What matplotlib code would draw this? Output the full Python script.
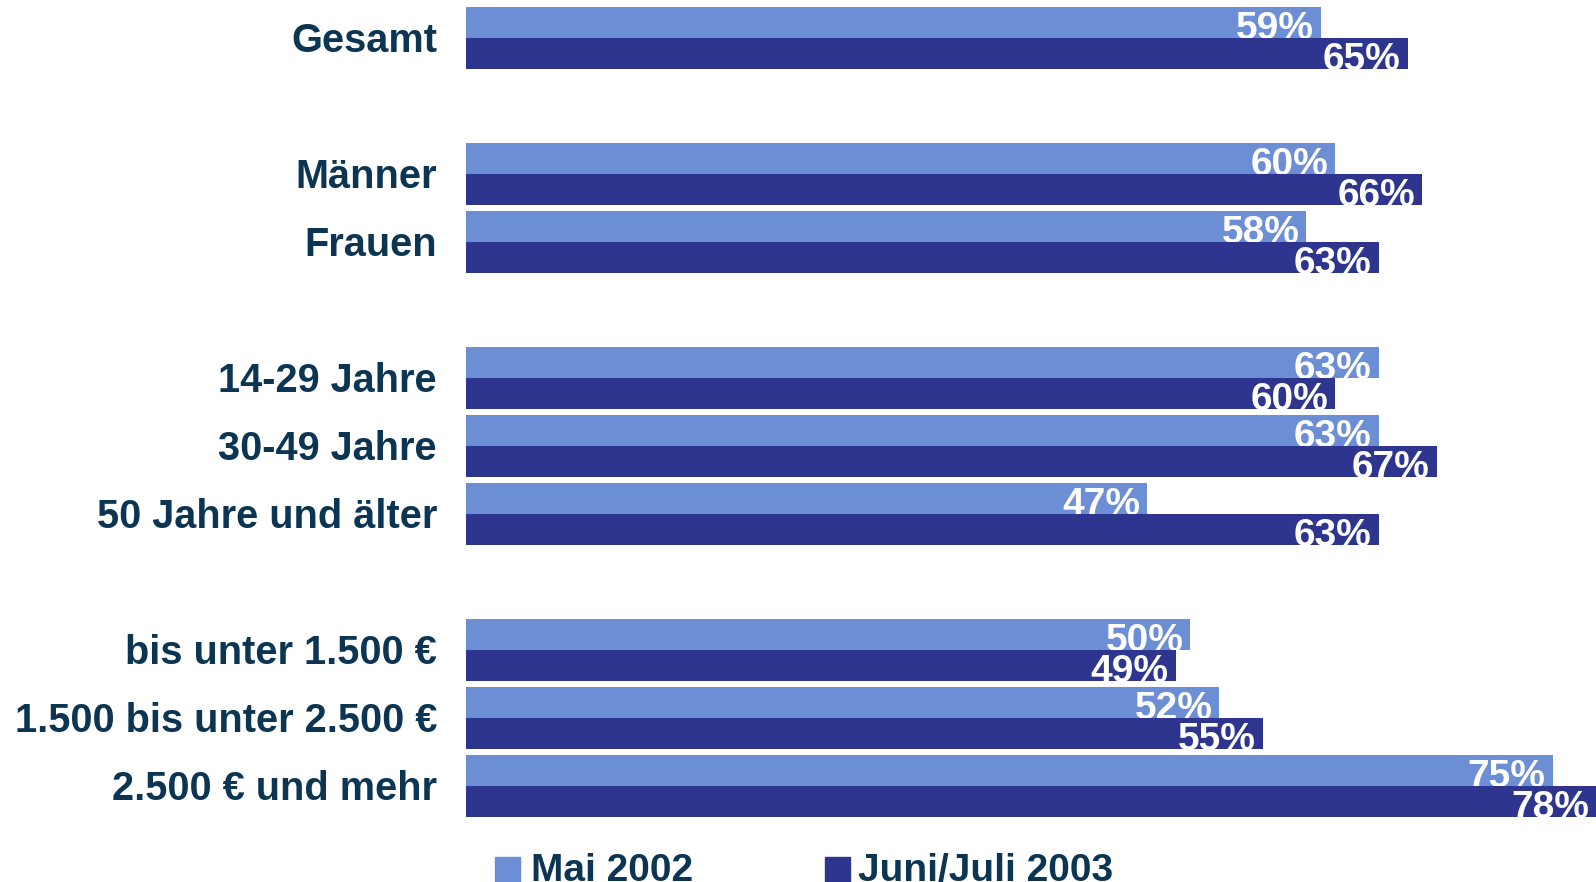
import matplotlib
matplotlib.use("Agg")
import matplotlib.pyplot as plt
import matplotlib.transforms as mtransforms
from matplotlib.patches import Rectangle
import numpy as np

categories = [
    "Gesamt",
    "Männer",
    "Frauen",
    "14-29 Jahre",
    "30-49 Jahre",
    "50 Jahre und älter",
    "bis unter 1.500 €",
    "1.500 bis unter 2.500 €",
    "2.500 € und mehr",
]
group_sizes = [1, 2, 3, 3]
mai_2002 = [59, 60, 58, 63, 63, 47, 50, 52, 75]
juni_2003 = [65, 66, 63, 60, 67, 63, 49, 55, 78]
series_names = ["Mai 2002", "Juni/Juli 2003"]

LIGHT = "#6C8ED4"
DARK = "#2E358E"
TEXT = "#0B3552"
FONT = "Liberation Sans"

W, H = 1596, 882
fig = plt.figure(figsize=(W / 100, H / 100), dpi=100)
x0 = 466
ax = fig.add_axes([x0 / W, 0, 1 - x0 / W, 1])
ax.set_axis_off()

# slot positions: one empty slot between groups
slots = []
pos = 0
for n in group_sizes:
    slots.extend(range(pos, pos + n))
    pos += n + 1
slots = np.array(slots, dtype=float)

pitch = 68.0
ax.set_xlim(0, 78)
ax.set_ylim((H - 38) / pitch, -38 / pitch)

h = 31 / pitch
light = ax.barh(slots - h / 2, mai_2002, height=h, color=LIGHT)
dark = ax.barh(slots + h / 2, juni_2003, height=h, color=DARK)

xoff = 7 / ((W - x0) / 78)
for bars, vals in [(light, mai_2002), (dark, juni_2003)]:
    for rect, v in zip(bars, vals):
        yb = rect.get_y() + rect.get_height()
        t = ax.text(v - xoff, yb + 1 / pitch, f"{v}%", ha="right", va="baseline",
                    color="white", fontsize=28, fontweight="bold", family=FONT)
        t.set_clip_path(rect)
        t.set_clip_on(True)

trans = mtransforms.blended_transform_factory(fig.transFigure, ax.transData)
for cat, s in zip(categories, slots):
    ax.text(437 / W, s + 14 / pitch, cat, transform=trans, ha="right", va="baseline",
            color=TEXT, fontsize=28.6, fontweight="bold", family=FONT, clip_on=False)

# legend drawn by hand at the bottom
for (sx, tx), name, col in zip([(495, 531), (825, 858)], series_names, [LIGHT, DARK]):
    fig.add_artist(Rectangle((sx / W, 0), 25 / W, 25 / H, color=col,
                             transform=fig.transFigure))
    fig.text(tx / W, 1 / H, name, ha="left", va="baseline", color=TEXT,
             fontsize=28, fontweight="bold", family=FONT)

fig.savefig("out.png", dpi=100)
